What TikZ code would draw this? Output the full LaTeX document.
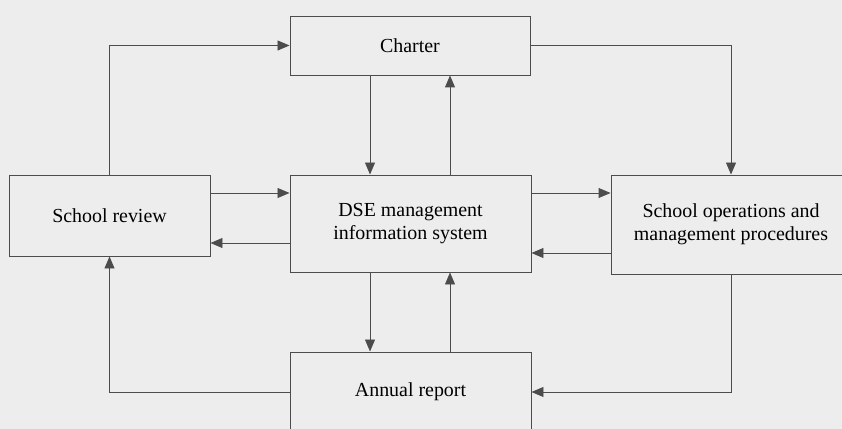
\documentclass[tikz,border=0pt]{standalone}
\usepackage{fontspec}
\setmainfont{Liberation Serif}
\usetikzlibrary{arrows.meta}
\begin{document}
\begin{tikzpicture}[x=0.03cm, y=-0.03cm, font=\fontsize{17}{20}\selectfont, line width=0.8pt, >={Triangle[length=3.6mm,width=3mm]}]
  \clip (0,0) rectangle (842,429);
  \fill[black!7] (0,0) rectangle (842,429);
  \tikzset{boxnode/.style={draw=black!70, align=center, inner sep=4pt}}
  \node[boxnode, minimum width=7.2cm, minimum height=1.77cm] (charter) at (410,45.5) {Charter};
  \node[boxnode, minimum width=7.23cm, minimum height=2.91cm] (dse) at (410.5,223.5) {DSE management\\information system};
  \node[boxnode, minimum width=6.03cm, minimum height=2.43cm] (review) at (109.5,215.5) {School review};
  \node[boxnode, minimum width=7.2cm, minimum height=2.97cm] (ops) at (731,224.5) {School operations and\\management procedures};
  \node[boxnode, minimum width=7.23cm, minimum height=2.4cm] (annual) at (410.5,392) {Annual report};
  \draw[->, draw=black!70] (review.north) |- (charter.west);
  \draw[->, draw=black!70] (charter.south -| 370,0) -- (dse.north -| 370,0);
  \draw[->, draw=black!70] (dse.north -| 450,0) -- (charter.south -| 450,0);
  \draw[->, draw=black!70] (charter.east) -| (ops.north);
  \draw[->, draw=black!70] (review.east |- 0,193) -- (dse.west |- 0,193);
  \draw[->, draw=black!70] (dse.west |- 0,243) -- (review.east |- 0,243);
  \draw[->, draw=black!70] (dse.east |- 0,193) -- (ops.west |- 0,193);
  \draw[->, draw=black!70] (ops.west |- 0,253) -- (dse.east |- 0,253);
  \draw[->, draw=black!70] (dse.south -| 370,0) -- (annual.north -| 370,0);
  \draw[->, draw=black!70] (annual.north -| 450,0) -- (dse.south -| 450,0);
  \draw[->, draw=black!70] (ops.south) |- (annual.east);
  \draw[->, draw=black!70] (annual.west) -| (review.south);
\end{tikzpicture}
\end{document}
